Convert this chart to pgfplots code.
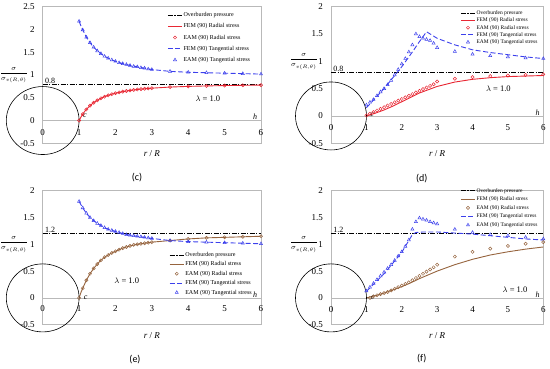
\documentclass[border=0pt]{standalone}
\usepackage{fontspec}
\setmainfont{Liberation Serif}
\newfontfamily\labfont{Carlito}
\usepackage{pgfplots}
\pgfplotsset{compat=1.18}
\definecolor{myred}{RGB}{232,40,52}
\definecolor{myblue}{RGB}{60,64,236}
\definecolor{mybrown}{RGB}{150,100,62}
\pgfplotsset{
 panel/.style={
  scale only axis, anchor=south west, clip=false,
  xmin=0, xmax=6, xtick={0,1,2,3,4,5,6},
  axis line style={gray!55, line width=0.6pt},
  major tick length=0pt,
  tick label style={font=\fontsize{9}{10}\selectfont},
  /pgf/number format/assume math mode=true,
  yticklabel style={anchor=east, xshift=-4.5pt},
  legend cell align=left,
  legend style={draw=none, fill=none, font=\fontsize{6}{7}\selectfont, inner sep=0pt,
     nodes={inner xsep=1pt, inner ysep=0pt, text height=4.3pt, text depth=1.2pt}},
  legend image code/.code={\draw[mark repeat=2,mark phase=2,##1] plot coordinates {(0cm,0cm) (0.25cm,0cm) (0.5cm,0cm)};},
  xlabel={\textit{r} / \textit{R}},
  every axis x label/.style={at={(axis description cs:0.5,0)}, anchor=center, yshift=-10.5pt, font=\fontsize{9}{10}\selectfont},
  ylabel={$\displaystyle\frac{\sigma}{\sigma_{v(R,\theta)}}$},
  every axis y label/.style={anchor=center, font=\fontsize{7.5}{9}\selectfont},
 },
 ob/.style={black, line width=0.7pt, dash pattern=on 5pt off 1.5pt on 1pt off 1.5pt},
 femr/.style={#1, line width=0.9pt},
 eamr/.style={#1, only marks, mark=o, mark size=1.6pt, mark options={line width=0.5pt}},
 femt/.style={myblue, line width=0.9pt, dash pattern=on 5pt off 2.5pt},
 eamt/.style={myblue, only marks, mark=triangle, mark size=1.8pt, mark options={line width=0.5pt}},
 zl/.style={gray!55, line width=0.6pt, forget plot},
}
\begin{document}
\begin{tikzpicture}
\useasboundingbox (0,0) rectangle (550pt,368pt);
% ---------------- (c)
\begin{axis}[panel, at={(42.7pt,224.7pt)}, width=218.3pt, height=136.6pt,
  ymin=-0.5, ymax=2.5, ytick={-0.5,0,0.5,1,1.5,2,2.5},
  yticklabels={-0.5,0,0.5,1,1.5,2,2.5},
  xticklabel style={anchor=center, yshift=10.6pt},
  ylabel style={at={(axis description cs:-0.132,0.5)}},
  legend style={at={(axis description cs:0.955,0.96)}, anchor=north east, row sep=5.7pt}]
\addplot[zl] coordinates {(0,0) (6,0)};
\addplot[ob] coordinates {(0,0.8) (6,0.8)};
\addplot[femr=myred] table {
1 0
1.05 0.074
1.1 0.139
1.15 0.195
1.2 0.244
1.3 0.327
1.4 0.392
1.5 0.444
1.6 0.488
1.7 0.523
1.8 0.553
1.9 0.578
2 0.600
2.2 0.635
2.4 0.661
2.6 0.682
2.8 0.698
3 0.711
3.5 0.735
4 0.750
4.5 0.760
5 0.768
5.5 0.774
6 0.778
};
\addplot[eamr=myred] table {
1 0
1.1 0.139
1.2 0.244
1.3 0.327
1.4 0.392
1.5 0.444
1.6 0.488
1.7 0.523
1.8 0.553
1.9 0.578
2 0.600
2.1 0.619
2.2 0.635
2.3 0.649
2.4 0.661
2.5 0.672
2.6 0.682
2.7 0.690
2.8 0.698
2.9 0.705
3 0.711
3.5 0.735
4 0.750
4.5 0.760
5 0.768
5.5 0.774
6 0.778
};
\addplot[femt] table {
1 2.18
1.05 2.08
1.1 1.99
1.15 1.91
1.2 1.83
1.3 1.71
1.4 1.61
1.5 1.53
1.6 1.47
1.7 1.41
1.8 1.37
1.9 1.33
2 1.30
2.2 1.25
2.4 1.21
2.6 1.18
2.8 1.15
3 1.12
3.5 1.08
4 1.06
4.5 1.05
5 1.04
5.5 1.03
6 1.02
};
\addplot[eamt] table {
1 2.18
1.1 1.99
1.2 1.83
1.3 1.71
1.4 1.61
1.5 1.53
1.6 1.47
1.7 1.41
1.8 1.37
1.9 1.33
2 1.30
2.1 1.27
2.2 1.25
2.3 1.23
2.4 1.21
2.5 1.19
2.6 1.18
2.7 1.16
2.8 1.15
2.9 1.13
3 1.12
3.5 1.08
4 1.06
4.5 1.05
5 1.04
5.5 1.03
6 1.02
};
\legend{Overburden pressure, FEM (90) Radial stress, EAM (90) Radial stress, FEM (90) Tangential stress, EAM (90) Tangential stress}
\draw[black, line width=0.6pt] (axis cs:0,0) ellipse [x radius=36.4pt, y radius=34pt];
\node[anchor=south west, inner sep=0.5pt, font=\fontsize{8}{9}\selectfont] at (axis cs:0.05,0.8) {0.8};
\node[font=\fontsize{8}{9}\selectfont\itshape] at (axis cs:1.16,0.1) {c};
\node[anchor=south, inner sep=0.5pt, font=\fontsize{8}{9}\selectfont\itshape] at (axis cs:5.84,0) {h};
\node[font=\fontsize{8.5}{10}\selectfont] at (axis cs:4.54,0.47) {$\lambda$ = 1.0};
\end{axis}
% ---------------- (d)
\begin{axis}[panel, at={(331pt,224.7pt)}, width=212.3pt, height=136.7pt,
  ymin=-0.5, ymax=2, ytick={-0.5,0,0.5,1,1.5,2},
  yticklabels={-0.5,0,0.5,1,1.5,2},
  xticklabel style={anchor=center, yshift=15.6pt},
  ylabel style={at={(axis description cs:-0.128,0.6)}},
  legend style={at={(axis description cs:0.978,0.971)}, anchor=north east, font=\fontsize{5.5}{6}\selectfont,
     nodes={text height=4pt, text depth=1.1pt}, row sep=2.1pt}]
\addplot[zl] coordinates {(0,0) (6,0)};
\addplot[ob] coordinates {(0,0.8) (6,0.8)};
\addplot[femr=myred] table {
1 0
1.25 0.05
1.5 0.11
1.75 0.18
2 0.26
2.25 0.34
2.5 0.42
2.75 0.48
3 0.54
3.5 0.62
4 0.67
4.5 0.70
5 0.72
5.5 0.73
6 0.74
};
\addplot[eamr=myred] table {
1 0.01
1.1 0.04
1.2 0.07
1.3 0.10
1.4 0.13
1.5 0.16
1.6 0.19
1.7 0.22
1.8 0.25
1.9 0.28
2 0.31
2.1 0.34
2.2 0.37
2.3 0.40
2.4 0.43
2.5 0.46
2.6 0.49
2.7 0.52
2.8 0.55
2.9 0.58
3 0.63
3.5 0.68
4 0.71
4.5 0.73
5 0.74
5.5 0.75
6 0.76
};
\addplot[femt] table {
1 0.15
1.5 0.50
2 0.90
2.3 1.17
2.5 1.36
2.7 1.54
3 1.42
3.5 1.30
4 1.21
4.5 1.16
5 1.12
5.5 1.08
6 1.05
};
\addplot[eamt] table {
1 0.20
1.1 0.25
1.2 0.30
1.3 0.37
1.4 0.44
1.5 0.50
1.6 0.57
1.7 0.65
1.8 0.75
1.9 0.85
2 0.95
2.1 1.05
2.2 1.17
2.3 1.30
2.4 1.50
2.5 1.45
2.6 1.42
2.7 1.40
2.8 1.38
2.9 1.33
3 1.25
3.5 1.18
4 1.13
4.5 1.10
5 1.08
5.5 1.06
6 1.05
};
\legend{Overburden pressure, FEM (90) Radial stress, EAM (90) Radial stress, FEM (90) Tangential stress, EAM (90) Tangential stress}
\draw[black, line width=0.6pt] (axis cs:0,0) ellipse [x radius=35.5pt, y radius=34pt];
\node[anchor=south west, inner sep=0.5pt, font=\fontsize{8}{9}\selectfont] at (axis cs:0.05,0.8) {0.8};
\node[font=\fontsize{8}{9}\selectfont\itshape] at (axis cs:1.16,0.02) {c};
\node[anchor=south, inner sep=0.5pt, font=\fontsize{8}{9}\selectfont\itshape] at (axis cs:5.84,0) {h};
\node[font=\fontsize{8.5}{10}\selectfont] at (axis cs:4.73,0.49) {$\lambda$ = 1.0};
\end{axis}
% ---------------- (e)
\begin{axis}[panel, at={(42.7pt,43.3pt)}, width=218.3pt, height=134pt,
  ymin=-0.5, ymax=2, ytick={-0.5,0,0.5,1,1.5,2},
  yticklabels={-0.5,0,0.5,1,1.5,2},
  xticklabel style={anchor=center, yshift=15.7pt},
  ylabel style={at={(axis description cs:-0.132,0.6)}},
  legend style={at={(axis description cs:0.963,0.218)}, anchor=south east, row sep=3.9pt}]
\addplot[zl] coordinates {(0,0) (6,0)};
\addplot[ob] coordinates {(0,1.2) (6,1.2)};
\addplot[femr=mybrown] table {
1 0
1.05 0.10
1.1 0.18
1.2 0.33
1.3 0.45
1.4 0.55
1.5 0.63
1.6 0.70
1.7 0.76
1.8 0.80
1.9 0.84
2 0.87
2.2 0.93
2.4 0.97
2.6 1.00
2.8 1.02
3 1.04
3.5 1.07
4 1.10
4.5 1.12
5 1.13
5.5 1.14
6 1.15
};
\addplot[eamr=mybrown] table {
1 0
1.1 0.18
1.2 0.33
1.3 0.45
1.4 0.55
1.5 0.63
1.6 0.70
1.7 0.76
1.8 0.80
1.9 0.84
2 0.87
2.1 0.90
2.2 0.93
2.3 0.95
2.4 0.97
2.5 0.99
2.6 1.00
2.7 1.01
2.8 1.02
2.9 1.03
3 1.04
3.5 1.07
4 1.10
4.5 1.12
5 1.13
5.5 1.14
6 1.15
};
\addplot[femt] table {
1 1.80
1.05 1.74
1.1 1.68
1.2 1.58
1.3 1.50
1.4 1.44
1.5 1.39
1.6 1.35
1.7 1.31
1.8 1.28
1.9 1.26
2 1.24
2.2 1.20
2.4 1.17
2.6 1.15
2.8 1.13
3 1.11
3.5 1.07
4 1.05
4.5 1.04
5 1.03
5.5 1.02
6 1.01
};
\addplot[eamt] table {
1 1.80
1.1 1.68
1.2 1.58
1.3 1.50
1.4 1.44
1.5 1.39
1.6 1.35
1.7 1.31
1.8 1.28
1.9 1.26
2 1.24
2.1 1.22
2.2 1.20
2.3 1.18
2.4 1.17
2.5 1.16
2.6 1.15
2.7 1.14
2.8 1.13
2.9 1.12
3 1.11
3.5 1.07
4 1.05
4.5 1.04
5 1.03
5.5 1.02
6 1.01
};
\legend{Overburden pressure, FEM (90) Radial stress, EAM (90) Radial stress, FEM (90) Tangential stress, EAM (90) Tangential stress}
\draw[black, line width=0.6pt] (axis cs:0,0) ellipse [x radius=36.4pt, y radius=34pt];
\node[anchor=south west, inner sep=0.5pt, font=\fontsize{8}{9}\selectfont] at (axis cs:0.05,1.2) {1.2};
\node[font=\fontsize{8}{9}\selectfont\itshape] at (axis cs:1.18,0.0) {c};
\node[anchor=south, inner sep=0.5pt, font=\fontsize{8}{9}\selectfont\itshape] at (axis cs:5.84,0) {h};
\node[font=\fontsize{8.5}{10}\selectfont] at (axis cs:2.31,0.32) {$\lambda$ = 1.0};
\end{axis}
% ---------------- (f)
\begin{axis}[panel, at={(331pt,43.3pt)}, width=212.3pt, height=134pt,
  ymin=-0.5, ymax=2, ytick={-0.5,0,0.5,1,1.5,2},
  yticklabels={-0.5,0,0.5,1,1.5,2},
  xticklabel style={anchor=center, yshift=15.2pt},
  ylabel style={at={(axis description cs:-0.128,0.6)}},
  legend style={at={(axis description cs:0.978,1.021)}, anchor=north east, font=\fontsize{5.5}{6}\selectfont,
     nodes={text height=4pt, text depth=1.1pt}, row sep=3.5pt}]
\addplot[zl] coordinates {(0,0) (6,0)};
\addplot[ob] coordinates {(0,1.2) (6,1.2)};
\addplot[femr=mybrown] table {
1 0
1.25 0.04
1.5 0.09
1.75 0.15
2 0.21
2.25 0.28
2.5 0.36
2.75 0.43
3 0.50
3.5 0.62
4 0.72
4.5 0.80
5 0.86
5.5 0.91
6 0.95
};
\addplot[eamr=mybrown] table {
1.1 0.00
1.2 0.03
1.3 0.05
1.4 0.07
1.5 0.09
1.6 0.11
1.7 0.14
1.8 0.17
1.9 0.20
2 0.23
2.1 0.26
2.2 0.29
2.3 0.33
2.4 0.37
2.5 0.41
2.6 0.45
2.7 0.49
2.8 0.53
2.9 0.57
3 0.62
3.5 0.77
4 0.86
4.5 0.92
5 0.97
5.5 1.01
6 1.04
};
\addplot[femt] table {
1 0.12
1.5 0.45
2 0.85
2.3 1.18
2.4 1.22
2.6 1.23
3 1.23
3.5 1.21
4 1.19
4.5 1.16
5 1.13
5.5 1.10
6 1.08
};
\addplot[eamt] table {
1 0.13
1.1 0.20
1.2 0.27
1.3 0.34
1.4 0.41
1.5 0.48
1.6 0.55
1.7 0.62
1.8 0.70
1.9 0.78
2 0.86
2.1 0.96
2.2 1.08
2.3 1.28
2.4 1.42
2.5 1.49
2.6 1.47
2.7 1.45
2.8 1.42
2.9 1.40
3 1.38
3.5 1.28
4 1.22
4.5 1.18
5 1.16
5.5 1.13
6 1.10
};
\legend{Overburden pressure, FEM (90) Radial stress, EAM (90) Radial stress, FEM (90) Tangential stress, EAM (90) Tangential stress}
\draw[black, line width=0.6pt] (axis cs:0,0) ellipse [x radius=35.5pt, y radius=34pt];
\node[anchor=south west, inner sep=0.5pt, font=\fontsize{8}{9}\selectfont] at (axis cs:0.05,1.2) {1.2};
\node[font=\fontsize{8}{9}\selectfont\itshape] at (axis cs:1.18,0.0) {c};
\node[anchor=south, inner sep=0.5pt, font=\fontsize{8}{9}\selectfont\itshape] at (axis cs:5.84,0) {h};
\node[font=\fontsize{8.5}{10}\selectfont] at (axis cs:5.2,0.15) {$\lambda$ = 1.0};
\end{axis}
\node[font=\labfont\fontsize{10}{12}\selectfont] at (137pt,190pt) {(c)};
\node[font=\labfont\fontsize{10}{12}\selectfont] at (421.7pt,189.7pt) {(d)};
\node[font=\labfont\fontsize{10}{12}\selectfont] at (135pt,8pt) {(e)};
\node[font=\labfont\fontsize{10}{12}\selectfont] at (421.7pt,9pt) {(f)};
\end{tikzpicture}
\end{document}
